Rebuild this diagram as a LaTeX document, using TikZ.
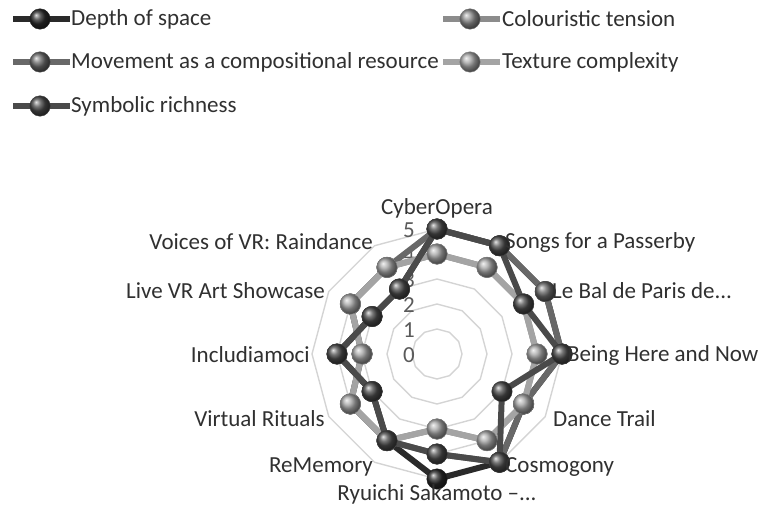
\documentclass[tikz,border=0pt]{standalone}
\usepackage{fontspec}
\setmainfont{Carlito}
\definecolor{cDep}{HTML}{2A2A2A}
\definecolor{cCol}{HTML}{8C8C8C}
\definecolor{cMov}{HTML}{686868}
\definecolor{cTex}{HTML}{A4A4A4}
\definecolor{cSym}{HTML}{4A4A4A}
\definecolor{cGrid}{HTML}{D4D4D4}
\definecolor{cTxt}{HTML}{303030}
\tikzset{
  serline/.style={line width=6pt, line join=round, line cap=round},
  marker/.style={circle, minimum size=20.5pt, inner sep=0pt},
  gridring/.style={draw=cGrid, line width=1.4pt, line join=round},
  lbl/.style={inner sep=0pt, text=cTxt},
  tick/.style={inner sep=0pt, text=cTxt!80},
}
\newcommand\radarser[3]{%
  \foreach \v [count=\k from 0] in {#3} {
    \coordinate (#1-\k) at ({25*\v*sin(30*\k)},{-25*\v*cos(30*\k)});
  }
  \draw[serline, draw=#2] (#1-0) -- (#1-1) -- (#1-2) -- (#1-3) -- (#1-4) -- (#1-5)
     -- (#1-6) -- (#1-7) -- (#1-8) -- (#1-9) -- (#1-10) -- (#1-11) -- cycle;
  \foreach \k in {0,...,11} {
    \node[marker, ball color=#2, draw=#2!80!black, line width=0.4pt] (#1m\k) at (#1-\k) {};
  }
}
\newcommand\legitem[4]{% name, x, y, colour
  \coordinate (#1a) at (#2,#3);
  \coordinate (#1b) at ({#2+57},#3);
  \draw[serline, line cap=butt, draw=#4] (#1a) -- (#1b);
  \node[marker, ball color=#4, draw=#4!80!black, line width=0.4pt] (#1m) at ({#2+27},#3) {};
}
\begin{document}
\begin{tikzpicture}[x=1pt, y=-1pt, font=\fontsize{23}{27}\selectfont]
\useasboundingbox (0,0) rectangle (761,511);
% legend
\legitem{lA}{13}{19}{cDep}
\node[lbl, anchor=west] (lAt) at (71,19) {Depth of space};
\legitem{lB}{443}{19}{cCol}
\node[lbl, anchor=west] (lBt) at (502,19) {Colouristic tension};
\legitem{lC}{13}{62}{cMov}
\node[lbl, anchor=west] (lCt) at (71,62) {Movement as a compositional resource};
\legitem{lD}{443}{62}{cTex}
\node[lbl, anchor=west] (lDt) at (502,62) {Texture complexity};
\legitem{lE}{13}{106}{cSym}
\node[lbl, anchor=west] (lEt) at (71,106) {Symbolic richness};
% chart
\begin{scope}[shift={(437,354)}]
  \foreach \r in {1,...,5} {
    \draw[gridring] ({25*\r*sin(0)},{-25*\r*cos(0)})
      \foreach \k in {1,...,11} { -- ({25*\r*sin(30*\k)},{-25*\r*cos(30*\k)}) } -- cycle;
  }
  \foreach \r in {0,...,5} {
    \node[tick] (tk\r) at (-28,{-25*\r+1}) {\r};
  }
  \radarser{D}{cDep}{5,5,5,5,4,5,5,4,3,4,3,3}
  \radarser{C}{cCol}{4,4,4,4,4,4,3,4,4,3,4,4}
  \radarser{M}{cMov}{5,5,5,5,4,5,4,4,4,3,4,4}
  \radarser{T}{cTex}{4,4,4,4,4,4,3,4,4,3,4,4}
  \radarser{S}{cSym}{5,5,4,5,3,5,4,4,3,4,3,3}
\end{scope}
\node[lbl] (a0) at (437,208) {CyberOpera};
\node[lbl, anchor=west] (a1) at (505,242) {Songs for a Passerby};
\node[lbl, anchor=west] (a2) at (552,291) {Le Bal de Paris de...};
\node[lbl, anchor=west] (a3) at (567,355) {Being Here and Now};
\node[lbl, anchor=west] (a4) at (553,419) {Dance Trail};
\node[lbl, anchor=west] (a5) at (505,467) {Cosmogony};
\node[lbl] (a6) at (437,494) {Ryuichi Sakamoto –...};
\node[lbl, anchor=east] (a7) at (373,467) {ReMemory};
\node[lbl, anchor=east] (a8) at (325,419) {Virtual Rituals};
\node[lbl, anchor=east] (a9) at (310,355) {Includiamoci};
\node[lbl, anchor=east] (a10) at (325,291) {Live VR Art Showcase};
\node[lbl, anchor=east] (a11) at (373,242) {Voices of VR: Raindance};
\end{tikzpicture}
\end{document}
